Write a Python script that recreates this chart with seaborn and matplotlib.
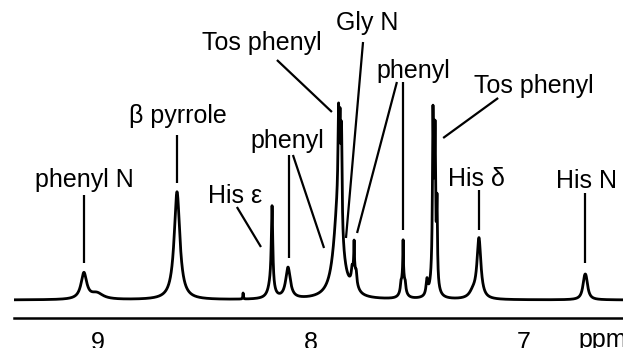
# 1H NMR spectrum with peak assignments
import numpy as np
import pandas as pd
import matplotlib.pyplot as plt
import seaborn as sns

sns.set_style("white")
plt.rcParams['font.family'] = ['Liberation Sans', 'DejaVu Sans']
plt.rcParams['text.color'] = 'black'
plt.rcParams['xtick.color'] = 'black'
plt.rcParams['axes.edgecolor'] = 'black'

# peaks: position (ppm), height above baseline, half width (ppm)
peak_ppm = [9.063, 9.002, 8.626, 8.316, 8.180, 8.185, 8.105,
            7.870, 7.868, 7.861, 7.854,
            7.795, 7.795, 7.805, 7.785,
            7.565, 7.565, 7.575, 7.555,
            7.453, 7.420, 7.425, 7.415, 7.406,
            7.237, 7.209, 6.714, 6.706]
peak_height = [26, 6, 108, 6, 80, 14, 31,
               95, 85, 80, 95,
               24, 25, 8, 8,
               24, 34, 6, 6,
               15, 70, 132, 112, 75,
               6, 60, 15, 15]
peak_width = [0.016, 0.035, 0.016, 0.0015, 0.004, 0.015, 0.013,
              0.024, 0.003, 0.003, 0.003,
              0.012, 0.0015, 0.003, 0.003,
              0.010, 0.0015, 0.003, 0.003,
              0.005, 0.009, 0.0025, 0.0025, 0.0025,
              0.020, 0.011, 0.010, 0.010]
baseline = 18

# annotations
label_text = ["phenyl N", "β pyrrole", "His ε", "phenyl", "Tos phenyl",
              "Gly N", "phenyl", "Tos phenyl", "His δ", "His N"]
label_x = [9.063, 8.621, 8.354, 8.110, 8.227, 7.734, 7.518, 6.950, 7.223, 6.702]
label_y = [131, 195, 115, 170, 268, 288, 240, 225, 132, 130]
leaders = [
    (9.063, 123, 9.063, 55),
    (8.626, 183, 8.626, 135),
    (8.345, 111, 8.232, 71),
    (8.100, 163, 8.100, 60),
    (8.082, 163, 7.936, 70),
    (8.157, 258, 7.899, 206),
    (7.753, 276, 7.833, 80),
    (7.565, 236, 7.565, 88),
    (7.594, 236, 7.781, 85),
    (7.119, 220, 7.377, 180),
    (7.209, 128, 7.209, 88),
    (6.711, 125, 6.711, 55),
]

# build spectrum from the Lorentzian lines
ppm = np.linspace(9.391, 6.533, 15000)
intensity = np.full_like(ppm, baseline, dtype=float)
for p0, h, w in zip(peak_ppm, peak_height, peak_width):
    intensity += h * w**2 / ((ppm - p0)**2 + w**2)
df = pd.DataFrame({"ppm": ppm, "intensity": intensity})

fig = plt.figure(figsize=(6.23, 3.48), dpi=100)
ax = fig.add_axes([14 / 623, 30 / 348, 609 / 623, 318 / 348])
sns.lineplot(data=df, x="ppm", y="intensity", color="black", lw=2.0,
             sort=False, ax=ax)

for x1, y1, x2, y2 in leaders:
    ax.plot([x1, x2], [y1, y2], color="black", lw=1.6, solid_capstyle="butt")
for t, x, y in zip(label_text, label_x, label_y):
    ax.text(x, y, t, ha="center", va="baseline", fontsize=18)

ax.set_xlim(9.391, 6.533)
ax.set_ylim(0, 318)
ax.set_xticks([9, 8.5, 8, 7.5, 7])
ax.set_xticklabels(["9", "", "8", "", "7"])
ax.set_yticks([])
ax.set_xlabel("")
ax.set_ylabel("")
for s in ["top", "left", "right"]:
    ax.spines[s].set_visible(False)
ax.spines["bottom"].set_linewidth(1.8)
ax.tick_params(axis="x", direction="out", length=6.5, width=1.6,
               pad=3, labelsize=18)
ax.text(6.744, -29, "ppm", ha="left", va="baseline", fontsize=18,
        clip_on=False)

fig.savefig("out.png", dpi=100)
